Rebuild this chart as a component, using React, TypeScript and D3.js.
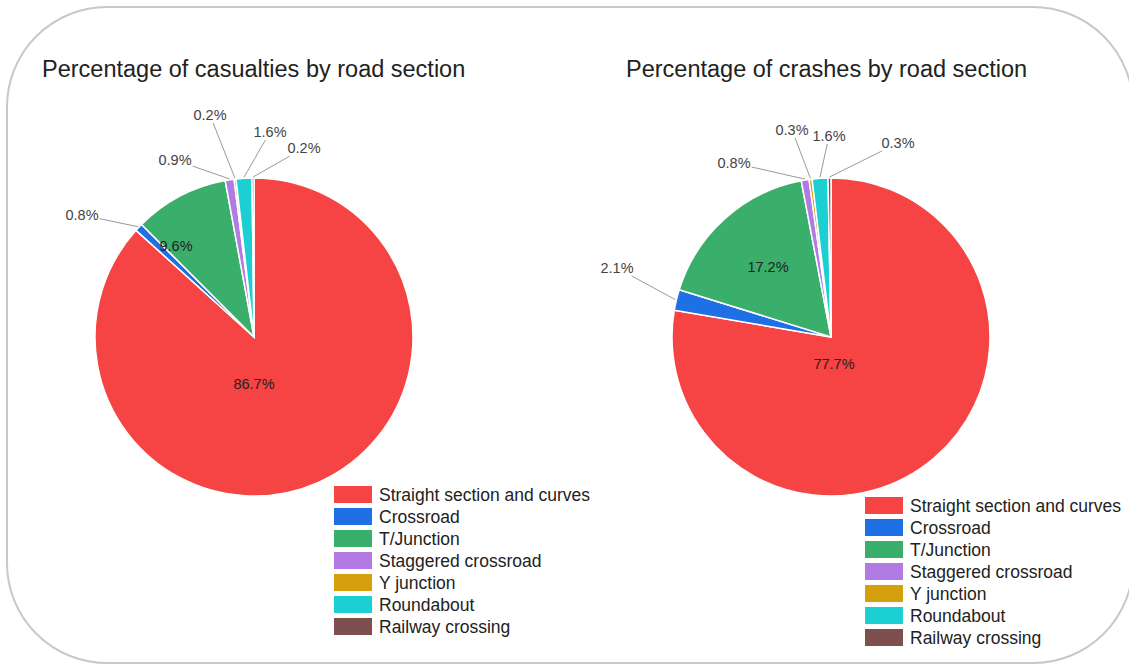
import React from "react";
import * as d3 from "d3";

const categories = [
  "Straight section and curves",
  "Crossroad",
  "T/Junction",
  "Staggered crossroad",
  "Y junction",
  "Roundabout",
  "Railway crossing",
];
const casualtiesPct = [86.7, 0.8, 9.6, 0.9, 0.2, 1.6, 0.2];
const crashesPct = [77.7, 2.1, 17.2, 0.8, 0.3, 1.6, 0.3];
const colors = ["#f64444", "#1f6fe5", "#3aae6b", "#b27be3", "#d4a00e", "#1ccfd2", "#7d4f4f"];

// label layout (relative to pie centre): [dx, dy, inside]
const leftLabels: [number, number, boolean][] = [
  [0, 47, true],
  [-172, -122, false],
  [-78, -91, true],
  [-79, -177, false],
  [-44, -222, false],
  [16, -205, false],
  [50, -189, false],
];
const rightLabels: [number, number, boolean][] = [
  [3, 27, true],
  [-214, -69, false],
  [-63, -70, true],
  [-97, -174, false],
  [-39, -207, false],
  [-2, -201, false],
  [67, -194, false],
];

const FONT = "'Liberation Sans', Arial, sans-serif";

function Pie({ cx, cy, r, values, labels, title, titleX, legendX, legendY }: any) {
  const pie = d3.pie<number>().sort(null).value((d) => d)(values);
  const arc = d3.arc<any>().innerRadius(0).outerRadius(r);
  const fmt = (v: number) => v.toFixed(1) + "%";
  const fs = 14.5;
  return (
    <g>
      <text x={titleX} y={77} fontSize={23.5} fill="#222" fontFamily={FONT}>
        {title}
      </text>
      <g transform={`translate(${cx},${cy})`}>
        {pie.map((p, i) => (
          <path key={i} d={arc(p) as string} fill={colors[i]} stroke="#fff" strokeWidth={1.5} />
        ))}
        {pie.map((p, i) => {
          const [lx, ly, inside] = labels[i];
          const txt = fmt(values[i]);
          if (inside) {
            return (
              <text key={"t" + i} x={lx} y={ly} fontSize={fs} fill="#222" textAnchor="middle"
                dominantBaseline="central" fontFamily={FONT}>
                {txt}
              </text>
            );
          }
          const mid = (p.startAngle + p.endAngle) / 2;
          const px = Math.sin(mid) * (r + 1);
          const py = -Math.cos(mid) * (r + 1);
          const hw = (txt.length * 0.57 * fs) / 2 + 1;
          const hh = 8;
          const dx = px - lx;
          const dy = py - ly;
          const t = Math.min(hw / Math.abs(dx || 1e-6), hh / Math.abs(dy || 1e-6));
          const ex = lx + dx * t;
          const ey = ly + dy * t;
          return (
            <g key={"o" + i}>
              <line x1={px} y1={py} x2={ex} y2={ey} stroke="#9a9a9a" strokeWidth={1} />
              <text x={lx} y={ly} fontSize={fs} fill="#444" textAnchor="middle"
                dominantBaseline="central" fontFamily={FONT}>
                {txt}
              </text>
            </g>
          );
        })}
      </g>
      <g transform={`translate(${legendX},${legendY})`}>
        {categories.map((c, i) => (
          <g key={c} transform={`translate(0,${i * 22})`}>
            <rect x={0} y={0} width={38} height={17} fill={colors[i]} />
            <text x={45} y={15} fontSize={17.5} fill="#222" fontFamily={FONT}>
              {c}
            </text>
          </g>
        ))}
      </g>
    </g>
  );
}

export default function App() {
  return (
    <svg width={1129} height={664} style={{ position: "absolute", left: 0, top: 0, background: "#fff" }}>
      <rect x={0} y={0} width={1129} height={664} fill="#fff" />
      <rect x={7} y={7} width={1126} height={656} rx={100} ry={100} fill="none" stroke="#c8c8c8" strokeWidth={2} />
      <Pie cx={254} cy={337} r={159} values={casualtiesPct} labels={leftLabels}
        title="Percentage of casualties by road section" titleX={42} legendX={334} legendY={486} />
      <Pie cx={831} cy={337} r={159} values={crashesPct} labels={rightLabels}
        title="Percentage of crashes by road section" titleX={626} legendX={865} legendY={497} />
    </svg>
  );
}
